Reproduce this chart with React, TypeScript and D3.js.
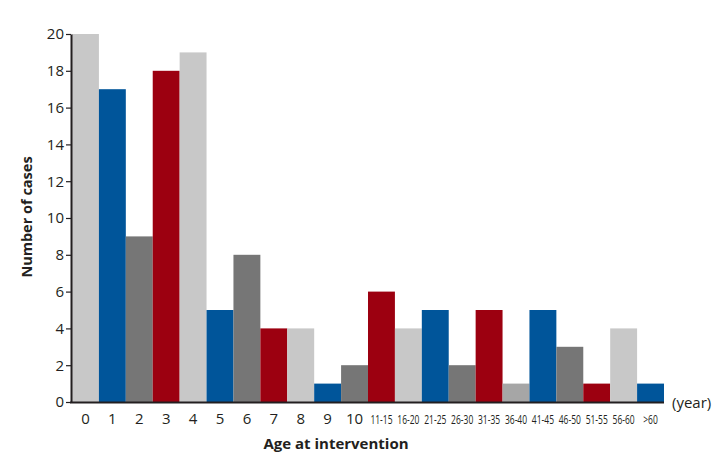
import React, { useEffect, useRef } from 'react';
import * as d3 from 'd3';

const categories = [
  '0', '1', '2', '3', '4', '5', '6', '7', '8', '9', '10',
  '11-15', '16-20', '21-25', '26-30', '31-35', '36-40', '41-45', '46-50', '51-55', '56-60', '>60'
];
const cases = [20, 17, 9, 18, 19, 5, 8, 4, 4, 1, 2, 6, 4, 5, 2, 5, 1, 5, 3, 1, 4, 1];
const barColors = [
  '#c8c8c8', '#00559a', '#767676', '#9c0010',
  '#c8c8c8', '#00559a', '#767676', '#9c0010',
  '#c8c8c8', '#00559a', '#767676', '#9c0010',
  '#c8c8c8', '#00559a', '#767676', '#9c0010',
  '#a6a6a6', '#00559a', '#767676', '#9c0010',
  '#c8c8c8', '#00559a'
];
const yTicks = [0, 2, 4, 6, 8, 10, 12, 14, 16, 18, 20];

const W = 719;
const H = 469;
const margin = { top: 34, right: 55, bottom: 67, left: 72 };
const FONT = "'Open Sans', 'Noto Sans', sans-serif";

export default function App() {
  const svgRef = useRef<SVGSVGElement>(null);

  useEffect(() => {
    if (!svgRef.current) return;
    const svg = d3.select(svgRef.current);
    svg.selectAll('*').remove();

    const innerW = W - margin.left - margin.right;
    const innerH = H - margin.top - margin.bottom;

    const x = d3.scaleBand().domain(categories).range([0, innerW]).padding(0);
    const y = d3.scaleLinear().domain([0, 20]).range([innerH, 0]);

    const g = svg.append('g').attr('transform', `translate(${margin.left},${margin.top})`);

    // bars
    g.selectAll('.bar')
      .data(categories)
      .enter()
      .append('rect')
      .attr('x', d => x(d) || 0)
      .attr('y', (d, i) => y(cases[i]))
      .attr('width', x.bandwidth())
      .attr('height', (d, i) => innerH - y(cases[i]))
      .attr('fill', (d, i) => barColors[i]);

    // y axis
    const yAxis = g.append('g')
      .attr('transform', 'translate(-1,0)')
      .call(d3.axisLeft(y).tickValues(yTicks).tickSize(5).tickSizeOuter(0).tickPadding(2));
    yAxis.select('.domain').attr('stroke', '#231f20').attr('stroke-width', 2);
    yAxis.selectAll('.tick line').attr('stroke', '#231f20').attr('stroke-width', 1.2);
    yAxis.selectAll('.tick text')
      .attr('font-family', FONT)
      .attr('font-size', 15)
      .attr('fill', '#231f20');

    // x axis line
    g.append('line')
      .attr('x1', -2)
      .attr('x2', innerW)
      .attr('y1', innerH + 0.5)
      .attr('y2', innerH + 0.5)
      .attr('stroke', '#231f20')
      .attr('stroke-width', 2);

    // x labels: single years normal, age ranges squeezed horizontally
    g.selectAll('.xlab')
      .data(categories)
      .enter()
      .append('text')
      .attr('transform', (d, i) => {
        const cx = (x(d) || 0) + x.bandwidth() / 2;
        return i <= 10
          ? `translate(${cx},${innerH + 22})`
          : `translate(${cx},${innerH + 22}) scale(0.68,1)`;
      })
      .attr('text-anchor', 'middle')
      .attr('font-family', FONT)
      .attr('fill', '#231f20')
      .attr('font-size', (d, i) => (i <= 10 ? 15 : 12.5))
      .text(d => d);

    // unit
    g.append('text')
      .attr('x', innerW + 8)
      .attr('y', innerH + 6)
      .attr('font-family', FONT)
      .attr('font-size', 15)
      .attr('fill', '#231f20')
      .text('(year)');

    // axis titles
    svg.append('text')
      .attr('x', 336)
      .attr('y', 449)
      .attr('text-anchor', 'middle')
      .attr('font-family', FONT)
      .attr('font-size', 15)
      .attr('font-weight', 'bold')
      .attr('fill', '#231f20')
      .text('Age at intervention');

    svg.append('text')
      .attr('transform', 'translate(32,217) rotate(-90)')
      .attr('text-anchor', 'middle')
      .attr('font-family', FONT)
      .attr('font-size', 14.5)
      .attr('font-weight', 'bold')
      .attr('fill', '#231f20')
      .text('Number of cases');
  }, []);

  return (
    <svg
      ref={svgRef}
      width={W}
      height={H}
      style={{ position: 'absolute', left: 0, top: 0, background: '#fff' }}
    />
  );
}
